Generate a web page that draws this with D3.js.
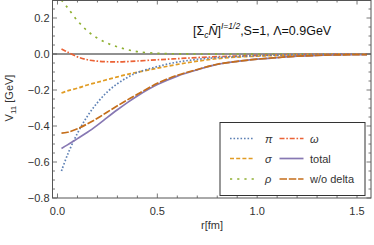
<!DOCTYPE html>
<html><head><meta charset="utf-8">
<script src="https://cdn.jsdelivr.net/npm/d3@7"></script>
<style>
html,body{margin:0;padding:0;background:#fff;}
svg{display:block;font-family:"Liberation Sans",Arial,sans-serif;}
</style></head>
<body>
<svg id="chart" width="374" height="245"></svg>
<script>
const rValues = [0.02,0.05,0.1,0.15,0.2,0.25,0.3,0.35,0.4,0.5,0.6,0.7,0.8,0.9,1.0,1.1,1.2,1.3,1.4,1.55];
const piValues    = [-0.65,-0.56,-0.44,-0.345,-0.27,-0.21,-0.165,-0.13,-0.103,-0.07,-0.045,-0.03,-0.02,-0.014,-0.009,-0.006,-0.004,-0.002,-0.001,-0.0005];
const sigmaValues = [-0.217,-0.205,-0.19,-0.172,-0.157,-0.142,-0.127,-0.113,-0.101,-0.079,-0.058,-0.04,-0.026,-0.017,-0.012,-0.008,-0.005,-0.003,-0.002,-0.001];
const rhoValues   = [0.30,0.258,0.185,0.128,0.088,0.06,0.04,0.024,0.013,0.004,0.001,0.0,0.0,0.0,0.0,0.0,0.0,0.0,0.0,0.0];
const omegaValues = [0.028,0.011,-0.016,-0.032,-0.04,-0.043,-0.044,-0.042,-0.039,-0.032,-0.026,-0.02,-0.015,-0.011,-0.008,-0.005,-0.003,-0.002,-0.001,-0.0005];
const totalValues = [-0.525,-0.505,-0.47,-0.435,-0.395,-0.352,-0.31,-0.27,-0.233,-0.17,-0.123,-0.088,-0.058,-0.041,-0.029,-0.02,-0.012,-0.008,-0.005,-0.003];
const woDeltaValues = [-0.44,-0.435,-0.415,-0.388,-0.357,-0.322,-0.288,-0.255,-0.224,-0.163,-0.118,-0.086,-0.057,-0.041,-0.029,-0.02,-0.012,-0.008,-0.005,-0.003];

const seriesNames = ["π","σ","ρ","ω","total","w/o delta"];
const seriesColors = ["#5E81B5","#E19C24","#8FB032","#EB6235","#8778B3","#C56E1A"];
const seriesDash = ["1.6,1.9","4,2.2","2.2,5","5,1.8,1.6,1.8",null,"7.5,1.8"];
const seriesData = [piValues,sigmaValues,rhoValues,omegaValues,totalValues,woDeltaValues];
const drawOrder = [2,3,1,0,4,5];

const xTicks = [0.0,0.5,1.0,1.5];
const yTicks = [-0.8,-0.6,-0.4,-0.2,0.0,0.2];

const svg = d3.select("#chart");
const L = 52.5, R = 371, T = 0, B = 198;
const x = d3.scaleLinear().domain([-0.025,1.57]).range([L,R]);
const y = d3.scaleLinear().domain([-0.8,0.3]).range([B,T]);

svg.append("defs").append("clipPath").attr("id","clip")
  .append("rect").attr("x",L).attr("y",T).attr("width",R-L).attr("height",B-T);

// zero line
svg.append("line").attr("x1",L).attr("x2",R).attr("y1",y(0)).attr("y2",y(0))
  .attr("stroke","#222").attr("stroke-width",1);

// curves
const line = d3.line().x((d,i)=>x(rValues[i])).y(d=>y(d)).curve(d3.curveCatmullRom.alpha(0.5));
const g = svg.append("g").attr("clip-path","url(#clip)");
drawOrder.forEach(k=>{
  g.append("path").datum(seriesData[k]).attr("d",line)
   .attr("fill","none").attr("stroke",seriesColors[k]).attr("stroke-width",1.7)
   .attr("stroke-dasharray",seriesDash[k]);
});

// frame
const frameColor="#555";
svg.append("rect").attr("x",L).attr("y",T+0.5).attr("width",R-L).attr("height",B-T-0.5)
  .attr("fill","none").attr("stroke",frameColor).attr("stroke-width",1);

// ticks
const tickG = svg.append("g").attr("stroke",frameColor).attr("stroke-width",0.8);
d3.range(0,1.56,0.1).forEach(v=>{
  const major = xTicks.some(t=>Math.abs(t-v)<1e-6);
  const len = major?4.5:2.5;
  tickG.append("line").attr("x1",x(v)).attr("x2",x(v)).attr("y1",B).attr("y2",B-len);
  tickG.append("line").attr("x1",x(v)).attr("x2",x(v)).attr("y1",T).attr("y2",T+len);
});
d3.range(-0.8,0.3,0.05).forEach(v=>{
  const major = yTicks.some(t=>Math.abs(t-v)<1e-6);
  const len = major?4.5:2.5;
  tickG.append("line").attr("x1",L).attr("x2",L+len).attr("y1",y(v)).attr("y2",y(v));
  tickG.append("line").attr("x1",R).attr("x2",R-len).attr("y1",y(v)).attr("y2",y(v));
});

// tick labels
const fmt = v => (v<0?"\u2212":"") + Math.abs(v).toFixed(1);
svg.append("g").selectAll("text").data(xTicks).join("text")
  .attr("x",d=>x(d)).attr("y",B+16.5).attr("text-anchor","middle")
  .attr("font-size",11).attr("fill","#333").text(fmt);
svg.append("g").selectAll("text").data(yTicks).join("text")
  .attr("x",L-3).attr("y",d=>y(d)+4).attr("text-anchor","end")
  .attr("font-size",11).attr("fill","#333").text(fmt);

// axis labels
svg.append("text").attr("x",212).attr("y",229).attr("text-anchor","middle")
  .attr("font-size",11).attr("fill","#333").text("r[fm]");
const yl = svg.append("text").attr("transform","translate(13,98) rotate(-90)")
  .attr("text-anchor","middle").attr("font-size",11).attr("fill","#333");
yl.append("tspan").text("V");
yl.append("tspan").attr("font-size",8).attr("dy",2.5).text("11");
yl.append("tspan").attr("dy",-2.5).text(" [GeV]");

// title
const tt = svg.append("text").attr("x",193).attr("y",35).attr("font-size",12.5).attr("fill","#111");
tt.append("tspan").text("[Σ");
tt.append("tspan").attr("font-size",8.5).attr("dy",3).attr("font-style","italic").text("c");
tt.append("tspan").attr("dy",-3).attr("font-style","italic").text("N\u0304");
tt.append("tspan").text("]");
tt.append("tspan").attr("font-size",8.5).attr("dy",-6).attr("font-style","italic").text("I=1/2");
tt.append("tspan").attr("dy",6).text(",S=1, Λ=0.9GeV");

// legend
svg.append("rect").attr("x",220).attr("y",122.5).attr("width",145).attr("height",73)
  .attr("fill","#fff").attr("stroke","#333").attr("stroke-width",1);
const legRows = [138.5,158.5,179];
const legCols = [{lx:230,tx:265},{lx:279.5,tx:310}];
const legendOrder = [0,3,1,4,2,5];
legendOrder.forEach((k,i)=>{
  const row = Math.floor(i/2), col = i%2;
  const c = legCols[col], yy = legRows[row];
  svg.append("line").attr("x1",c.lx).attr("x2",c.lx+24).attr("y1",yy).attr("y2",yy)
    .attr("stroke",seriesColors[k]).attr("stroke-width",1.7).attr("stroke-dasharray",seriesDash[k]);
  svg.append("text").attr("x",c.tx).attr("y",yy+4).attr("font-size",11).attr("fill","#333")
    .attr("font-style",k<4?"italic":"normal").text(seriesNames[k]);
});
</script>
</body></html>
